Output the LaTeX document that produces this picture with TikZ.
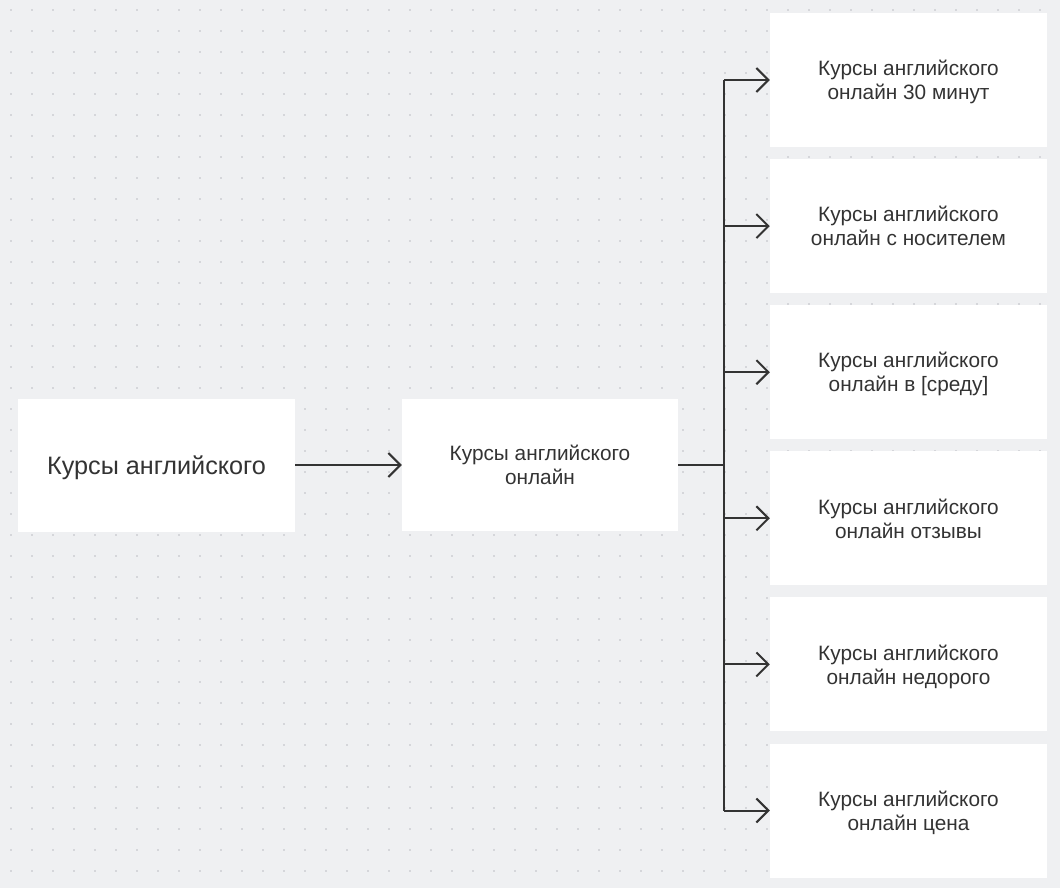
\documentclass[tikz,border=0pt]{standalone}
\usepackage{fontspec}
\setmainfont{Liberation Sans}
\usetikzlibrary{arrows.meta}
\definecolor{bgc}{HTML}{EFF0F2}
\definecolor{dotc}{HTML}{D5D6DA}
\definecolor{inkc}{HTML}{333333}
\tikzset{
  card/.style={fill=white, draw=none, rectangle, inner sep=0pt, align=center, text=inkc,
    text depth=0pt, font=\fontsize{20.8}{24}\selectfont},
  bigcard/.style={card, font=\fontsize{25.2}{30}\selectfont},
  link/.style={draw=inkc, line width=2pt},
  arr/.style={link, -{Straight Barb[length=12pt,width=24pt,line width=2pt]}},
  trunk/.style={draw=inkc, line width=2.6pt}
}
\begin{document}
\begin{tikzpicture}[x=1pt,y=-1pt]
\useasboundingbox (0,0) rectangle (1060,888);
\fill[bgc] (0,0) rectangle (1060,888);
\foreach \i in {0,...,49}{
  \foreach \j in {0,...,41}{
    \fill[dotc] ({10.3+21*\i},{9.3+21*\j}) rectangle +(1.4,1.4);
  }
}
\node[bigcard, minimum width=277pt, minimum height=133pt] (src) at (156.5,465) {Курсы английского};
\node[card, minimum width=276pt, minimum height=132pt] (mid) at (540,465) {Курсы английского\\онлайн};
\foreach \n/\t [count=\k from 0] in {r1/{онлайн 30 минут}, r2/{онлайн с носителем}, r3/{онлайн в [среду]}, r4/{онлайн отзывы}, r5/{онлайн недорого}, r6/{онлайн цена}}{
  \node[card, minimum width=277pt, minimum height=134pt] (\n) at (908.5,{80+146.1*\k}) {Курсы английского\\\t};
}
\coordinate (j) at (724,465);
\draw[arr] (src.east) -- (mid.west);
\draw[trunk] (mid.east) -- (j);
\draw[trunk] (j |- r1.west) -- (j |- r6.west);
\foreach \n in {r1,r2,r3,r4,r5,r6}{
  \draw[arr] (j |- \n.west) -- (\n.west);
}
\end{tikzpicture}
\end{document}
